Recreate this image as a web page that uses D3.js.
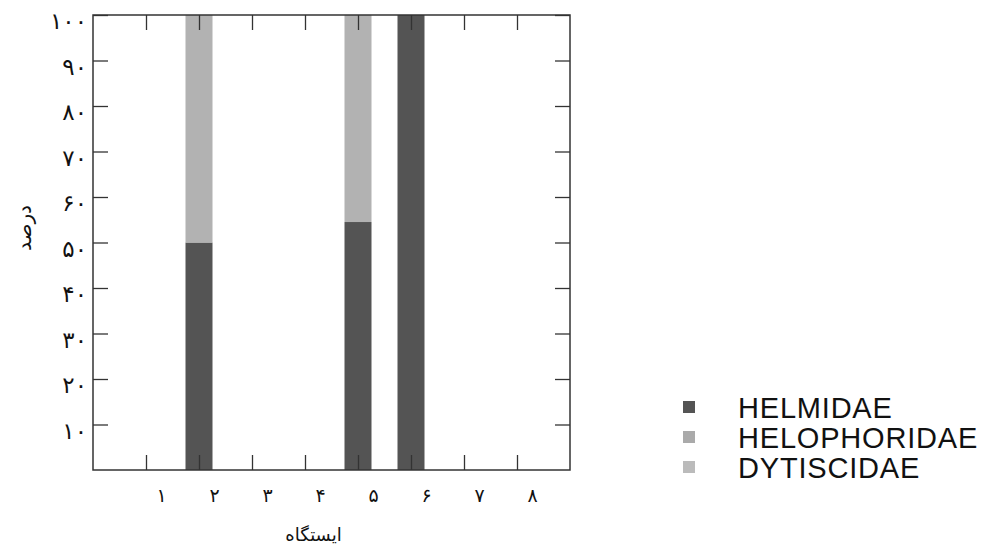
<!DOCTYPE html>
<html>
<head>
<meta charset="utf-8">
<script src="https://cdn.jsdelivr.net/npm/d3@7"></script>
<style>
  body { margin: 0; background: #fff; }
  svg { display: block; }
</style>
</head>
<body>
<div id="chart"></div>
<script>
// stations 1..8 and percentage of each family
const stations = [1, 2, 3, 4, 5, 6, 7, 8];
const stationLabels = ['۱', '۲', '۳', '۴', '۵', '۶', '۷', '۸'];
const helmidae = [0, 50, 0, 0, 54.5, 100, 0, 0];
const helophoridae = [0, 50, 0, 0, 45.5, 0, 0, 0];
const dytiscidae = [0, 0, 0, 0, 0, 0, 0, 0];
const yTicks = [10, 20, 30, 40, 50, 60, 70, 80, 90, 100];
const yLabels = ['۱۰', '۲۰', '۳۰', '۴۰', '۵۰', '۶۰', '۷۰', '۸۰', '۹۰', '۱۰۰'];
const families = ['HELMIDAE', 'HELOPHORIDAE', 'DYTISCIDAE'];

let w = 986;
let h = 550;
let pLeft = 93, pRight = 570, pTop = 15, pBottom = 470;
const colors = ['#545454', '#b2b2b2', '#bdbdbd'];

let svg = d3.select('#chart').
append('svg').
attr('width', w).
attr('height', h);

let xScale = d3.scaleLinear().
domain([0, 9]).
range([pLeft, pRight]);

let yScale = d3.scaleLinear().
domain([0, 100]).
range([pBottom, pTop]);

let table = stations.map((s, i) => ({
  station: s,
  HELMIDAE: helmidae[i],
  HELOPHORIDAE: helophoridae[i],
  DYTISCIDAE: dytiscidae[i]
}));

let stack = d3.stack().keys(families)(table);
let barW = 27;

svg.selectAll('g.layer').
data(stack).
enter().
append('g').
attr('class', 'layer').
attr('fill', (d, i) => colors[i]).
selectAll('rect').
data(d => d).
enter().
append('rect').
attr('x', d => xScale(d.data.station) - barW / 2).
attr('width', barW).
attr('y', d => yScale(d[1])).
attr('height', d => yScale(d[0]) - yScale(d[1]));

// axes with inward ticks
let xAxisB = d3.axisBottom(xScale).
tickValues(stations).
tickSizeInner(-15).
tickSizeOuter(0).
tickFormat((d, i) => stationLabels[i]);

let gx = svg.append('g').
attr('transform', 'translate(0,' + pBottom + ')').
call(xAxisB);
gx.selectAll('text').
attr('x', 15).
attr('y', 25).
attr('dy', '0.35em').
style('font-family', 'DejaVu Sans').
style('font-size', '19px').
attr('fill', '#111');

svg.append('g').
attr('transform', 'translate(0,' + pTop + ')').
call(d3.axisTop(xScale).tickValues(stations).tickSizeInner(-15).tickSizeOuter(0).tickFormat(''));

let gy = svg.append('g').
attr('transform', 'translate(' + pLeft + ',0)').
call(d3.axisLeft(yScale).tickValues(yTicks).tickSizeInner(-15).tickSizeOuter(0).tickFormat((d, i) => yLabels[i]));
gy.selectAll('text').
attr('x', -6).
attr('dy', '0.6em').
style('font-family', 'DejaVu Sans').
style('font-size', '23px').
style('letter-spacing', '4px').
attr('fill', '#111');

svg.append('g').
attr('transform', 'translate(' + pRight + ',0)').
call(d3.axisRight(yScale).tickValues(yTicks).tickSizeInner(-15).tickSizeOuter(0).tickFormat(''));

svg.selectAll('.domain').remove();
svg.selectAll('.tick line').
attr('stroke', '#333').
attr('stroke-width', 1.3);

svg.append('rect').
attr('x', pLeft).
attr('y', pTop).
attr('width', pRight - pLeft).
attr('height', pBottom - pTop).
attr('fill', 'none').
attr('stroke', '#333').
attr('stroke-width', 1.5);

// axis titles
svg.append('text').
text('ایستگاه').
attr('x', (pLeft + pRight) / 2 - 18).
attr('y', 541).
attr('text-anchor', 'middle').
style('font-family', 'DejaVu Sans').
style('font-size', '18px').
attr('fill', '#111');

svg.append('text').
text('درصد').
attr('transform', 'translate(31,228) rotate(-90)').
attr('text-anchor', 'middle').
style('font-family', 'DejaVu Sans').
style('font-size', '20px').
attr('fill', '#111');

// legend
let legend = svg.selectAll('g.legend').
data(families).
enter().
append('g').
attr('class', 'legend').
attr('transform', (d, i) => 'translate(683,' + (401 + i * 30) + ')');

legend.append('rect').
attr('width', 12).
attr('height', 12).
attr('fill', (d, i) => ['#545454', '#aaaaaa', '#bbbbbb'][i]);

legend.append('text').
text(d => d).
attr('x', 55).
attr('y', 17).
style('font-family', 'Liberation Sans').
style('font-size', '29px').
style('letter-spacing', '0.8px').
attr('fill', '#111');
</script>
</body>
</html>
